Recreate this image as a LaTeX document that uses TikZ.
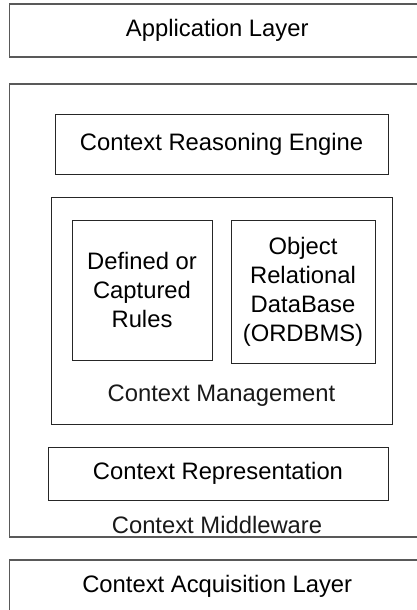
\documentclass[tikz,border=0pt]{standalone}
\usepackage{fontspec}
\setmainfont{Liberation Sans}

\tikzset{
  layer/.style={draw=black!65, line width=1.3pt, inner sep=0pt, outer sep=0pt},
  part/.style={draw=black!85, line width=0.9pt, inner sep=0pt, outer sep=0pt, align=center},
  caption/.style={inner sep=0pt, text=black!90}
}

\begin{document}
\begin{tikzpicture}[x=1pt, y=-1pt,
    every node/.style={font=\fontsize{23.8}{29}\selectfont}]
  \useasboundingbox (0,0) rectangle (417,610);
  \clip (0,0) rectangle (417,610);

  % Outer layers (run off the right edge)
  \node [layer, minimum width=415.5pt, minimum height=53pt] (app) at (217.25,30.5) {Application Layer};
  \node [layer, minimum width=415.5pt, minimum height=453pt] (middle) at (217.25,310.5) {};
  \node [layer, minimum width=415.5pt, minimum height=52pt] (acq) at (217.25,586) {Context Acquisition Layer};

  % Parts of the middleware
  \node [part, minimum width=333pt, minimum height=60pt] (reason) at (221.5,144) {Context Reasoning Engine};
  \node [part, minimum width=341pt, minimum height=227pt] (manage) at (221.5,310.5) {};
  \node [part, minimum width=140pt, minimum height=140pt] (rules) at (142,290) {Defined or\\Captured\\Rules};
  \node [part, minimum width=144pt, minimum height=143pt] (ordbms) at (303,291.5) {Object\\Relational\\DataBase\\(ORDBMS)};
  \node [part, minimum width=340pt, minimum height=53pt] (repr) at (218,473.5) {Context Representation};

  % Labels at the foot of the containers
  \node [caption] (managelabel) at (221.5,396) {Context Management};
  \node [caption] (middlelabel) at (217,525) {Context Middleware};
\end{tikzpicture}
\end{document}
